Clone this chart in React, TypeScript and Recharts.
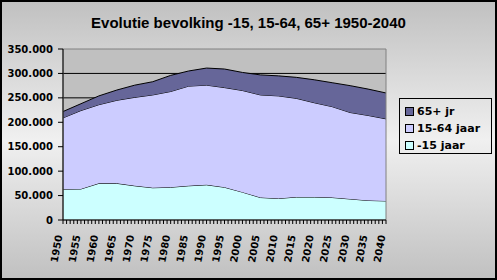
import { AreaChart, Area, XAxis, YAxis, CartesianGrid, ReferenceArea } from 'recharts';

const years = [1950, 1955, 1960, 1965, 1970, 1975, 1980, 1985, 1990, 1995, 2000, 2005, 2010, 2015, 2020, 2025, 2030, 2035, 2040];
const under15 = [63000, 63500, 75000, 75000, 70000, 66000, 67000, 70000, 72000, 67000, 57000, 46000, 44000, 47000, 47000, 46000, 43000, 40000, 39000];
const age15to64 = [146000, 160500, 161000, 170000, 181000, 190000, 196000, 204000, 204000, 204000, 208000, 210000, 210000, 202000, 193000, 186000, 177000, 174000, 168000];
const over65 = [13000, 14000, 18000, 21000, 25000, 27000, 33000, 31000, 35000, 38000, 37000, 41000, 41000, 43000, 47000, 49000, 55000, 54000, 53000];

const yTicks = [0, 50000, 100000, 150000, 200000, 250000, 300000, 350000];
const gridValues = [50000, 100000, 150000, 200000, 250000, 300000];
const yearTicks = Array.from({ length: 91 }, (_, i) => 1950 + i);

const series = [
  { key: 'under15', name: '-15 jaar', color: '#ccffff' },
  { key: 'age15to64', name: '15-64 jaar', color: '#ccccff' },
  { key: 'over65', name: '65+ jr', color: '#666699' },
];

const data = years.map((year, i) => ({
  year,
  under15: under15[i],
  age15to64: age15to64[i],
  over65: over65[i],
}));

const formatThousands = (v: number) => String(v).replace(/\B(?=(\d{3})+(?!\d))/g, '.');

const YearTick = (props: any) => {
  const { x, y, payload } = props;
  if (payload.value % 5 !== 0) return null;
  const ax = x - 4;
  const ay = y + 9;
  return (
    <text
      x={ax}
      y={ay}
      transform={`rotate(-80 ${ax} ${ay})`}
      textAnchor="end"
      dominantBaseline="central"
      fontFamily="DejaVu Sans"
      fontWeight="bold"
      fontSize={10}
      fill="#000"
    >
      {payload.value}
    </text>
  );
};

export default function App() {
  return (
    <div
      style={{
        position: 'absolute',
        left: 0,
        top: 0,
        width: 497,
        height: 280,
        background: 'linear-gradient(to bottom, #c0c0c0 0%, #f0f0f0 50%, #c0c0c0 100%)',
        fontFamily: 'DejaVu Sans',
      }}
    >
      <div
        style={{
          position: 'absolute',
          left: 0,
          top: 14,
          width: 497,
          textAlign: 'center',
          fontFamily: '"Liberation Sans", Arial',
          fontWeight: 'bold',
          fontSize: 15,
          lineHeight: '18px',
        }}
      >
        Evolutie bevolking -15, 15-64, 65+ 1950-2040
      </div>
      <AreaChart
        width={497}
        height={280}
        data={data}
        margin={{ top: 49, right: 111, bottom: 0, left: 0 }}
        style={{ position: 'absolute', left: 0, top: 0 }}
      >
        <CartesianGrid
          fill="#c0c0c0"
          vertical={false}
          horizontalValues={gridValues}
          stroke="#000"
          strokeOpacity={1}
        />
        <XAxis
          dataKey="year"
          type="number"
          domain={[1950, 2040]}
          ticks={yearTicks}
          interval={0}
          height={60}
          tickSize={4}
          stroke="#000"
          tick={<YearTick />}
        />
        <YAxis
          domain={[0, 350000]}
          ticks={yTicks}
          width={63}
          tickSize={5}
          tickMargin={5}
          stroke="#000"
          tickFormatter={formatThousands}
          tick={{ fill: '#000', fontSize: 10, fontWeight: 'bold', fontFamily: 'DejaVu Sans' }}
        />
        {series.map((s) => (
          <Area
            key={s.key}
            type="linear"
            dataKey={s.key}
            name={s.name}
            stackId="1"
            stroke="#000"
            strokeWidth={1}
            fill={s.color}
            fillOpacity={1}
            isAnimationActive={false}
          />
        ))}
        <ReferenceArea x1={1950} x2={2040} y1={0} y2={350000} fill="none" stroke="#808080" strokeOpacity={1} />
      </AreaChart>
      <div
        style={{
          position: 'absolute',
          left: 399,
          top: 98,
          width: 93,
          height: 56,
          boxSizing: 'border-box',
          border: '1px solid #000',
          padding: '4px 0 0 5px',
        }}
      >
        {[...series].reverse().map((s) => (
          <div key={s.key} style={{ display: 'flex', alignItems: 'center', height: 16, marginBottom: 1 }}>
            <span
              style={{
                display: 'inline-block',
                width: 7,
                height: 7,
                background: s.color,
                border: '1px solid #000',
                marginRight: 3,
              }}
            />
            <span style={{ fontSize: 11, fontWeight: 'bold', color: '#000' }}>{s.name}</span>
          </div>
        ))}
      </div>
      <div
        style={{
          position: 'absolute',
          left: 0,
          top: 0,
          width: 497,
          height: 280,
          boxSizing: 'border-box',
          border: '2px solid #000',
          pointerEvents: 'none',
        }}
      />
    </div>
  );
}
